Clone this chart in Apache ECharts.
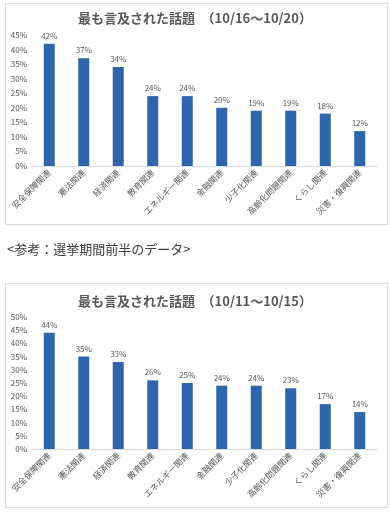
<!DOCTYPE html>
<html>
<head>
<meta charset="utf-8">
<script src="https://cdn.jsdelivr.net/npm/echarts@6/dist/echarts.min.js"></script>
<style>
  html, body { margin: 0; padding: 0; background: #fff; }
  #chart { width: 390px; height: 514px; }
</style>
</head>
<body>
<div id="chart"></div>
<script>
const categories = ['安全保障関連', '憲法関連', '経済関連', '教育関連', 'エネルギー関連', '金融関連', '少子化関連', '高齢化問題関連', 'くらし関連', '災害・復興関連'];
const late = [42, 37, 34, 24, 24, 20, 19, 19, 18, 12];   // 10/16〜10/20
const early = [44, 35, 33, 26, 25, 24, 24, 23, 17, 14];  // 10/11〜10/15
const titles = ['最も言及された話題　（10/16〜10/20）', '最も言及された話題　（10/11〜10/15）'];
const note = '<参考：選挙期間前半のデータ>';

const font = '"Noto Sans CJK JP", "Noto Sans", sans-serif';
const grey = '#595959';
const blue = '#2E66AD';

function xAxis(idx) {
  return {
    type: 'category',
    gridIndex: idx,
    data: categories,
    axisTick: { show: false },
    axisLine: { lineStyle: { color: '#D9D9D9' } },
    axisLabel: { rotate: 45, fontSize: 8.5, color: grey, fontFamily: font, interval: 0, margin: 5 }
  };
}
function yAxis(idx, max) {
  return {
    type: 'value',
    gridIndex: idx,
    min: 0,
    max: max,
    interval: 5,
    axisLine: { show: false },
    axisTick: { show: false },
    splitLine: { show: false },
    axisLabel: { formatter: '{value}%', fontSize: 8, color: grey, fontFamily: font, margin: 5 }
  };
}
function bars(idx, data) {
  return {
    type: 'bar',
    xAxisIndex: idx,
    yAxisIndex: idx,
    data: data,
    barWidth: 11,
    itemStyle: { color: blue },
    label: { show: true, position: 'top', formatter: '{c}%', fontSize: 8, color: grey, fontFamily: font, distance: 4 }
  };
}

const chart = echarts.init(document.getElementById('chart'));
chart.setOption({
  animation: false,
  title: [
    { text: titles[0], left: 'center', top: 7, textStyle: { fontSize: 13, fontWeight: 'bold', color: grey, fontFamily: font } },
    { text: titles[1], left: 'center', top: 290, textStyle: { fontSize: 13, fontWeight: 'bold', color: grey, fontFamily: font } }
  ],
  graphic: [
    { type: 'rect', shape: { x: 5.5, y: 3.5, width: 382, height: 221 }, style: { fill: 'none', stroke: '#D9D9D9', lineWidth: 1 } },
    { type: 'rect', shape: { x: 5.5, y: 283.5, width: 382, height: 224 }, style: { fill: 'none', stroke: '#D9D9D9', lineWidth: 1 } },
    { type: 'text', left: 7, top: 243, style: { text: note, fontSize: 13, fill: '#404040', fontFamily: font } }
  ],
  grid: [
    { left: 32, width: 345, top: 35, height: 131 },
    { left: 32, width: 345, top: 317, height: 132 }
  ],
  xAxis: [xAxis(0), xAxis(1)],
  yAxis: [yAxis(0, 45), yAxis(1, 50)],
  series: [bars(0, late), bars(1, early)]
});
</script>
</body>
</html>
